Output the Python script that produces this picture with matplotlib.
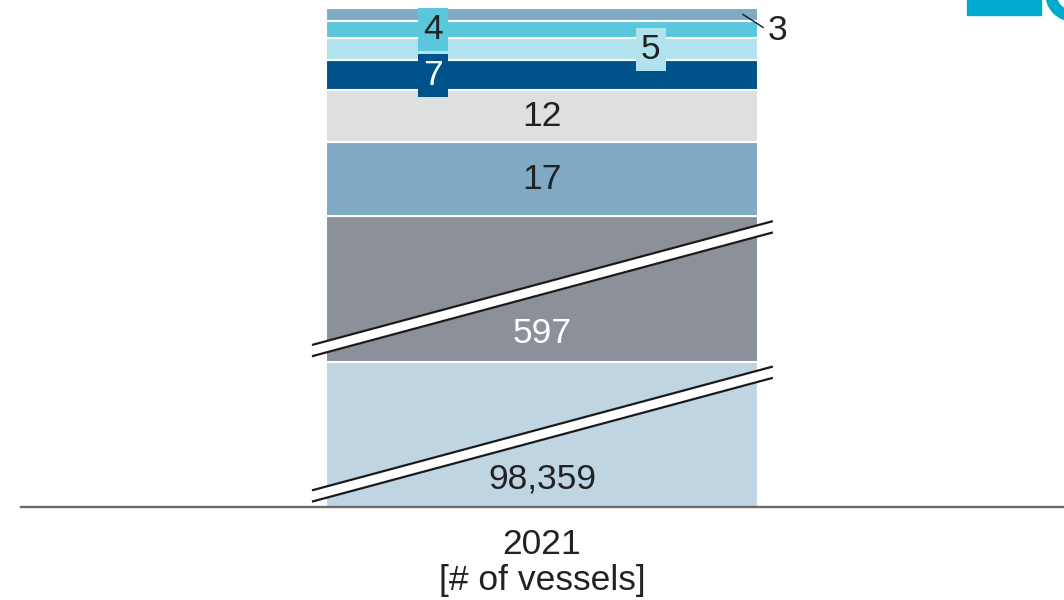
import numpy as np
import matplotlib
matplotlib.use("Agg")
import matplotlib.pyplot as plt
from matplotlib.patches import Rectangle, Wedge

plt.rcParams['font.family'] = ['Liberation Sans Narrow', 'Liberation Sans', 'DejaVu Sans']

# data: one stacked bar, bottom to top
year = "2021"
unit_label = "[# of vessels]"
segment_values = [98359, 597, 17, 12, 7, 5, 4, 3]
segment_colors = ['#BFD5E2', '#8C9199', '#7FA9C4', '#DEDFE1',
                  '#00538A', '#B1E3EE', '#5BC7DD', '#80AAC4']
text_colors = ['#222222', 'white', '#222222', '#222222',
               'white', '#222222', '#222222', '#222222']
# how each label is placed
label_modes = ['broken', 'broken', 'center', 'center',
               'box_left', 'box_right', 'box_left', 'outside']

CAP = 33.5          # displayed height of a broken segment
PX_PER_UNIT = 4.34  # vertical scale
FS = 25.5

values = np.array(segment_values, dtype=float)
shown = np.minimum(values, CAP)
bottoms = np.concatenate([[0], np.cumsum(shown)[:-1]])

fig = plt.figure(figsize=(10.64, 6.0), dpi=100)
ax = fig.add_axes([0, 93 / 600, 1, 507 / 600])
ax.set_xlim(-542 / 432, (1064 - 542) / 432)
ax.set_ylim(0, 507 / PX_PER_UNIT)
ax.axis('off')

ax.bar(0, shown, bottom=bottoms, width=1.0, color=segment_colors,
       edgecolor='white', linewidth=1.5, zorder=2)

# break marks on the capped segments
for v, b in zip(values, bottoms):
    if v <= CAP:
        continue
    xs = np.array([-0.53, 0.532])
    upper = b + np.array([3.9, 32.3])
    lower = b + np.array([1.3, 29.7])
    ax.fill(np.concatenate([xs, xs[::-1]]), np.concatenate([upper, lower[::-1]]),
            color='white', zorder=3, clip_on=False)
    ax.plot(xs, upper, color='#1a1a1a', lw=1.6, zorder=4, clip_on=False)
    ax.plot(xs, lower, color='#1a1a1a', lw=1.6, zorder=4, clip_on=False)

# value labels
for v, b, h, mode, c, tc in zip(values, bottoms, shown, label_modes,
                                segment_colors, text_colors):
    txt = f"{int(v):,}"
    mid = b + h / 2
    if mode == 'broken':
        ax.text(0, b + 6.5, txt, ha='center', va='center', fontsize=FS,
                color=tc, zorder=5)
    elif mode == 'center':
        ax.text(0, mid, txt, ha='center', va='center', fontsize=FS,
                color=tc, zorder=5)
    elif mode in ('box_left', 'box_right'):
        x = -0.252 if mode == 'box_left' else 0.252
        ax.text(x, mid, txt, ha='center', va='center', fontsize=FS,
                color=tc, zorder=6,
                bbox=dict(boxstyle='square,pad=0.14', fc=c, ec='none'))
    else:
        ax.plot([0.465, 0.512], [mid, mid - 3.0], color='#1a1a1a', lw=1.0,
                zorder=5, clip_on=False)
        ax.text(0.522, mid - 3.6, txt, ha='left', va='center', fontsize=FS,
                color=tc, zorder=5)

# baseline
ax.axhline(0, xmin=21 / 1064, xmax=1, color='#6B6B6B', lw=1.7, zorder=5,
           clip_on=False)

ax.text(0, -21 / PX_PER_UNIT, year + "\n" + unit_label, ha='center', va='top',
        fontsize=FS, color='#222222', linespacing=1.12)

# cut-off logo in the top right corner
fig.patches.append(Rectangle((967 / 1064, 1 - 15 / 600), 74 / 1064, 15 / 600,
                             transform=fig.transFigure, color='#00A9CE'))
ring = Wedge((1073, 606), 27, 0, 360, width=10, color='#00A9CE',
             transform=None)
fig.patches.append(ring)

fig.savefig('out.png', dpi=100)
